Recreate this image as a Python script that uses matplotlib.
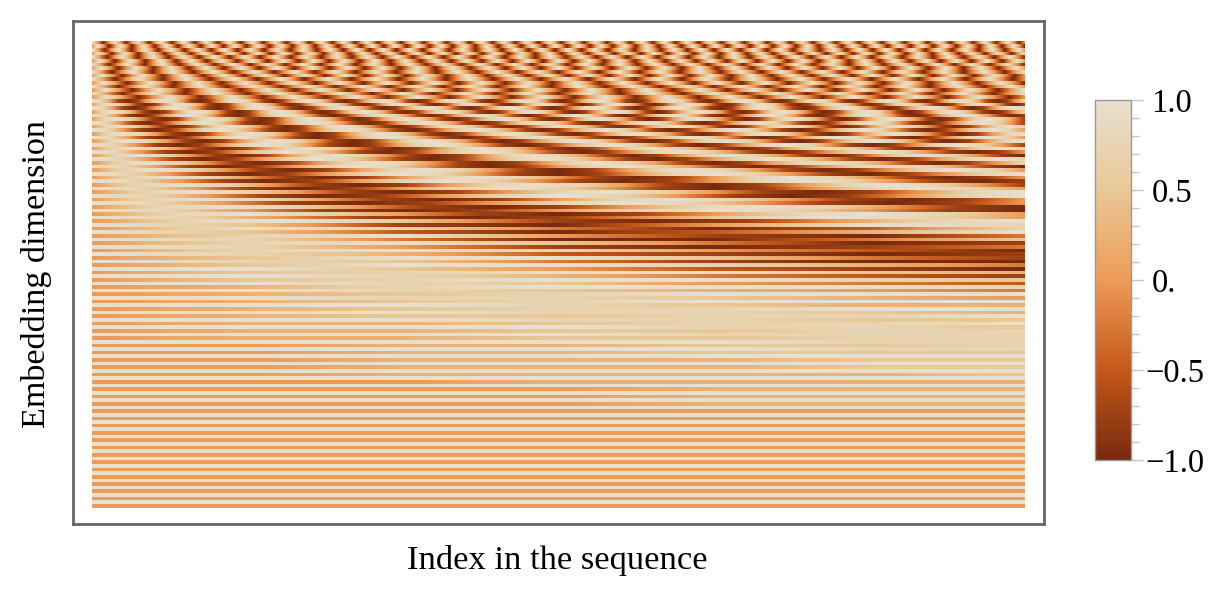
import numpy as np
import matplotlib
matplotlib.use('Agg')
import matplotlib.pyplot as plt
from matplotlib.colors import LinearSegmentedColormap
from matplotlib.transforms import ScaledTranslation

plt.rcParams['font.family'] = ['Liberation Serif', 'DejaVu Serif']

# levels read by eye, one string per row from the top: 0 = -1.0, 4 = 0, 8 = +1.0
fine_rows = [
    "8404840484048404840484048404840484048404" "8404840484048404840484048404840484048404" "8404840484048404840484048404840484048404" "8404840484048404840484048404840484048404" "8404",
    "4840484048404840484048404840484048404840" "4840484048404840484048404840484048404840" "4840484048404840484048404840484048404840" "4840484048404840484048404840484048404840" "4840",
    "8404840484048404840484048404840484048404" "8404840484048404840484048404840484048404" "8404840484048404840484048404840484048404" "84048404840484048404" "84",
    "4840484048404840484048404840484048404840" "4840484048404840484048404840484048404840" "4840484048404840484048404840484048404840" "48404840484048404840" "48",
    "8404840484048404840484048404840484048404" "8404840484048404840484048404840484048404" "8404840484048404840484048404840484048404" "840",
    "4840484048404840484048404840484048404840" "4840484048404840484048404840484048404840" "4840484048404840484048404840484048404840" "484",
    "8404840484048404840484048404840484048404" "8404840484048404840484048404840484048404" "840484048404840484048404" "840",
    "4840484048404840484048404840484048404840" "4840484048404840484048404840484048404840" "484048404840484048404840" "484",
    "8404840484048404840484048404840484048404" "8404840484048404840484048404840484048404" "840484048404" "8",
    "4840484048404840484048404840484048404840" "4840484048404840484048404840484048404840" "484048404840" "4",
    "8404840484048404840484048404840484048404" "8404840484048404840484048404840484048404",
    "4840484048404840484048404840484048404840" "4840484048404840484048404840484048404840",
    "8404840484048404840484048404840484048404" "8404840484048404840484048404" "84",
    "4840484048404840484048404840484048404840" "4840484048404840484048404840" "48",
    "8404840484048404840484048404840484048404" "84048404840484048404" "8",
    "4840484048404840484048404840484048404840" "48404840484048404840" "4",
]

mid_rows = [
    "8741014787410147874101478741014787410147" "8741014787410147874101478741014787410147" "874101478741014787410147",
    "4787410147874101478741014787410147874101" "4787410147874101478741014787410147874101" "478741014787410147874101",
    "8741014787410147874101478741014787410147" "8741014787410147874101478741014787410147" "87410147" "87",
    "4787410147874101478741014787410147874101" "4787410147874101478741014787410147874101" "47874101" "47",
    "8741014787410147874101478741014787410147" "87410147874101478741014787410147" "874101",
    "4787410147874101478741014787410147874101" "47874101478741014787410147874101" "478741",
    "8741014787410147874101478741014787410147" "874101478741014787410147" "8741",
    "4787410147874101478741014787410147874101" "478741014787410147874101" "4787",
    "8741014787410147874101478741014787410147" "8741014787410147" "874",
    "4787410147874101478741014787410147874101" "4787410147874101" "478",
    "8741014787410147874101478741014787410147" "87410147" "874",
    "4787410147874101478741014787410147874101" "47874101" "478",
    "8741014787410147874101478741014787410147" "8741",
    "4787410147874101478741014787410147874101" "4787",
    "87410147874101478741014787410147" "8741014",
    "47874101478741014787410147874101" "4787410",
    "87410147874101478741014787410147" "87",
    "47874101478741014787410147874101" "47",
    "874101478741014787410147" "87410",
    "478741014787410147874101" "47874",
    "874101478741014787410147" "8",
    "478741014787410147874101" "4",
    "8741014787410147" "874101",
    "4787410147874101" "478741",
    "8741014787410147" "874",
    "4787410147874101" "478",
    "8741014787410147" "8",
    "4787410147874101" "4",
    "87410147" "8741014",
    "47874101" "4787410",
    "87410147" "87410",
    "47874101" "47874",
    "87410147" "874",
    "47874101" "478",
]

slow_rows = [
    "8610487", "4873027", "8620258", "4784103", "8730036", "4786301",
    "8741013", "4787420", "8752101", "4688631", "8763100", "4688753",
    "8864210", "4678865", "8875321", "4678876", "8876432", "4578887",
    "8876543", "4567888", "8877654", "4567888", "8887655", "4567788",
    "8887765", "4566778", "8887766", "4556778", "8888776", "4556677",
    "8888777", "4556677", "8888877", "4455667", "8888877", "4455666",
    "8888888", "4455566", "8888888", "4455566", "8888888", "4455556",
    "8888888", "4445555", "8888888", "4444555", "8888888", "4444555",
    "8888888", "4444555", "8888888", "4444444", "8888888", "4444444",
    "8888888", "4444444", "8888888", "4444444", "8888888", "4444444",
    "8888888", "4444444", "8888888", "4444444", "8888888", "4444444",
    "8888888", "4444444", "8888888", "4444444", "8888888", "4444444",
    "8888888", "4444444", "8888888", "4444444", "8888888", "4444444",
]

cbar_ticks = [-1.0, -0.5, 0.0, 0.5, 1.0]
cbar_labels = ['\u22121.0', '\u22120.5', '0.', '0.5', '1.0']
cbar_minor = [-0.9, -0.8, -0.7, -0.6, -0.4, -0.3, -0.2, -0.1, 0.1, 0.2, 0.3, 0.4, 0.6, 0.7, 0.8, 0.9]

W, H = 1222, 596
cmap = LinearSegmentedColormap.from_list(
    'copperish', ['#772a0e', '#c4581a', '#ee9b58', '#e9c896', '#e8e0cf'])


def px_axes(fig, left, top, right, bottom):
    return fig.add_axes([left / W, 1 - bottom / H, (right - left) / W, (bottom - top) / H])


fig = plt.figure(figsize=(W / 100, H / 100), dpi=100)

frame = px_axes(fig, 73, 21, 1044, 524)
frame.set_xticks([])
frame.set_yticks([])
for s in frame.spines.values():
    s.set_color('#666666')
    s.set_linewidth(2.0)

rows = fine_rows + mid_rows + slow_rows
ax = px_axes(fig, 92, 41, 1025, 508)
ax.axis('off')
for r, row in enumerate(rows):
    vals = -1 + 0.25 * np.array([int(c) for c in row], dtype=float)
    half = 0.5 / (len(vals) - 1)
    ax.imshow(vals[None, :], extent=[-half, 1 + half, r + 1.02, r - 0.02], aspect='auto',
              cmap=cmap, vmin=-1, vmax=1, interpolation='bilinear', interpolation_stage='data')
ax.set_xlim(0, 1)
ax.set_ylim(len(rows), 0)

cax = px_axes(fig, 1095, 100, 1131, 460)
sm = plt.cm.ScalarMappable(norm=plt.Normalize(-1, 1), cmap=cmap)
cb = fig.colorbar(sm, cax=cax)
cb.outline.set_edgecolor('#999999')
cb.outline.set_linewidth(1)
cb.set_ticks(cbar_ticks, labels=cbar_labels)
cb.set_ticks(cbar_minor, minor=True)
cax.tick_params(which='major', length=8.5, width=1, color='#c4c4c4', labelsize=23.5, pad=2)
cax.tick_params(which='minor', length=5.5, width=1, color='#c4c4c4')
# labels without a minus sign start further right, as in the reference
for lab, txt in zip(cax.get_yticklabels(), cbar_labels):
    if not txt.startswith('\u2212'):
        lab.set_transform(lab.get_transform() + ScaledTranslation(6 / 100, 0, fig.dpi_scale_trans))

fig.text(557 / W, 1 - 560 / H, 'Index in the sequence', fontsize=24.8, ha='center', va='center')
fig.text(37 / W, 1 - 274 / H, 'Embedding dimension', fontsize=24.6, rotation=90, ha='center', va='center')

fig.savefig('out.png', dpi=100)
plt.close(fig)
